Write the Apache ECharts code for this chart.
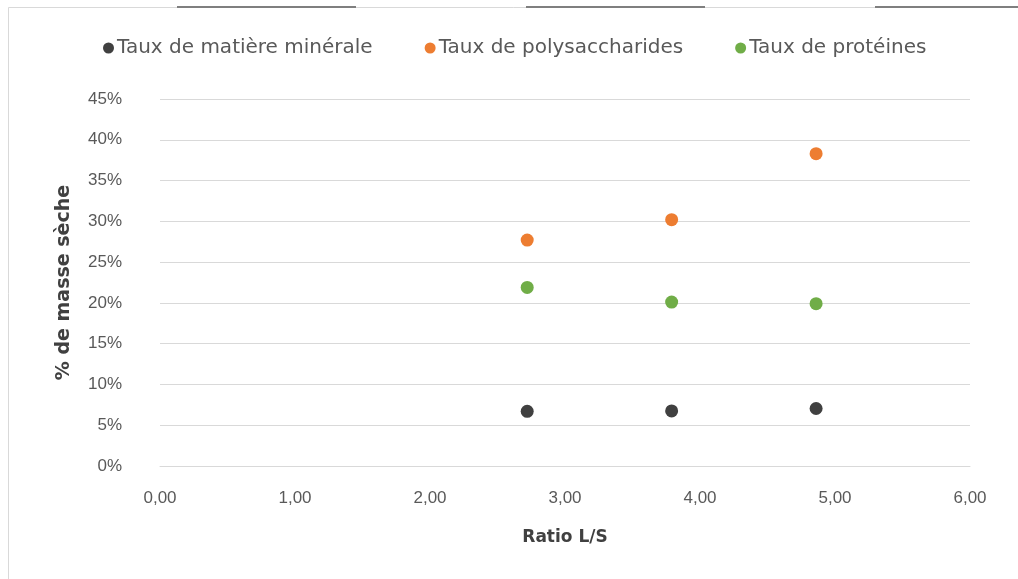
<!DOCTYPE html>
<html>
<head>
<meta charset="utf-8">
<script src="https://cdn.jsdelivr.net/npm/echarts@6/dist/echarts.min.js"></script>
<style>
html,body{margin:0;padding:0;background:#fff;}
#chart{width:1018px;height:579px;}
</style>
</head>
<body>
<div id="chart"></div>
<script>
const ratioLS = [2.72, 3.79, 4.86];
const seriesNames = ['Taux de matière minérale', 'Taux de polysaccharides', 'Taux de protéines'];
const matiereMinerale = [6.7, 6.75, 7.05];
const polysaccharides = [27.7, 30.2, 38.3];
const proteines = [21.9, 20.1, 19.9];
const seriesColors = ['#404040', '#ED7D31', '#70AD47'];

const allValues = [matiereMinerale, polysaccharides, proteines];
const chart = echarts.init(document.getElementById('chart'), null, {renderer: 'canvas'});
const txt = '#595959';
const option = {
  backgroundColor: '#ffffff',
  animation: false,
  graphic: [
    {type: 'rect', shape: {x: 8.5, y: 7.5, width: 1030, height: 600}, style: {fill: 'none', stroke: '#D9D9D9', lineWidth: 1}, z: -10},
    {type: 'line', shape: {x1: 177, y1: 7, x2: 356, y2: 7}, style: {stroke: '#7F7F7F', lineWidth: 2}},
    {type: 'line', shape: {x1: 526, y1: 7, x2: 705, y2: 7}, style: {stroke: '#7F7F7F', lineWidth: 2}},
    {type: 'line', shape: {x1: 875, y1: 7, x2: 1018, y2: 7}, style: {stroke: '#7F7F7F', lineWidth: 2}}
  ],
  legend: {
    top: 33,
    left: 98,
    itemGap: 52,
    itemWidth: 11,
    itemHeight: 11,
    icon: 'circle',
    textStyle: {fontFamily: 'DejaVu Sans', fontSize: 20, color: txt, padding: [0, 0, 0, -2]},
    data: seriesNames
  },
  grid: {left: 160, right: 48, top: 99, bottom: 113},
  xAxis: {
    type: 'value',
    min: 0, max: 6, interval: 1,
    name: 'Ratio L/S',
    nameLocation: 'middle',
    nameGap: 63,
    nameTextStyle: {fontFamily: 'DejaVu Sans', fontWeight: 'bold', fontSize: 17, color: '#404040'},
    axisLine: {show: true, lineStyle: {color: '#D9D9D9', width: 1}},
    axisTick: {show: false},
    splitLine: {show: false},
    axisLabel: {margin: 24, fontFamily: 'Liberation Sans', fontSize: 17, color: txt,
      formatter: v => v.toFixed(2).replace('.', ',')}
  },
  yAxis: {
    type: 'value',
    min: 0, max: 45, interval: 5,
    name: '% de masse sèche',
    nameLocation: 'middle',
    nameGap: 86,
    nameRotate: 90,
    nameTextStyle: {fontFamily: 'DejaVu Sans', fontWeight: 'bold', fontSize: 19, color: '#404040'},
    axisLine: {show: false},
    axisTick: {show: false},
    splitLine: {show: true, lineStyle: {color: '#D9D9D9', width: 1}},
    axisLabel: {margin: 38, fontFamily: 'Liberation Sans', fontSize: 17, color: txt,
      formatter: v => v + '%'}
  },
  series: seriesNames.map((name, i) => ({
    name: name,
    type: 'scatter',
    symbol: 'circle',
    symbolSize: 13,
    itemStyle: {color: seriesColors[i], opacity: 1},
    data: ratioLS.map((x, j) => [x, allValues[i][j]])
  }))
};
chart.setOption(option);
</script>
</body>
</html>
